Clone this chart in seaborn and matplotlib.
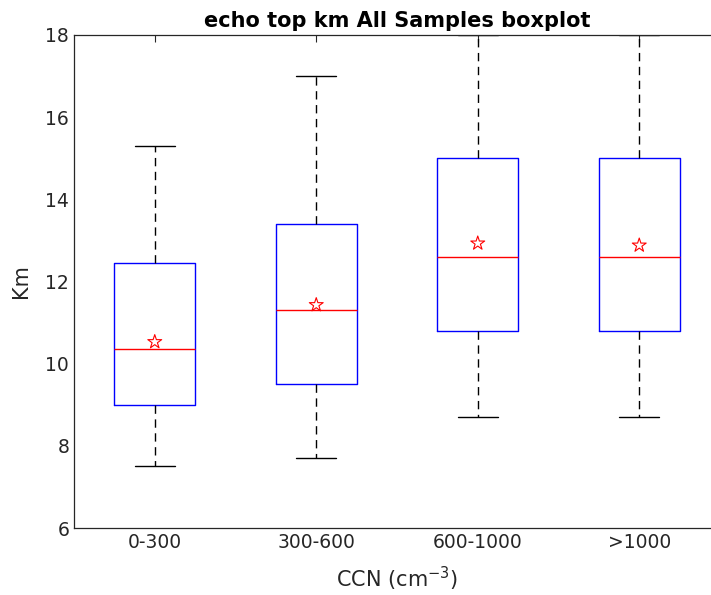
import numpy as np
import pandas as pd
import seaborn as sns
import matplotlib.pyplot as plt

# Box statistics (km)
categories = ['0-300', '300-600', '600-1000', '>1000']
whisker_low = [7.5, 7.7, 8.7, 8.7]
q1 = [9.0, 9.5, 10.8, 10.8]
median = [10.35, 11.3, 12.6, 12.6]
q3 = [12.45, 13.4, 15.0, 15.0]
whisker_high = [15.3, 17.0, 18.0, 18.0]
mean = [10.53, 11.43, 12.93, 12.88]

# five-number rows per group, so seaborn recovers the same quartiles
rows = []
for i, c in enumerate(categories):
    for v in (whisker_low[i], q1[i], median[i], q3[i], whisker_high[i]):
        rows.append({'CCN': c, 'km': v})
df = pd.DataFrame(rows)
means_df = pd.DataFrame({'CCN': categories, 'km': mean})

sns.set_style('white')
plt.rcParams['font.family'] = ['DejaVu Sans']

axis_gray = '#262626'
fig = plt.figure(figsize=(7.11, 5.95), dpi=100)
ax = fig.add_axes([74 / 711, 67 / 595, 646 / 711, 493 / 595])

sns.boxplot(data=df, x='CCN', y='km', order=categories, whis=(0, 100),
            width=0.5, fill=False, showfliers=False, ax=ax,
            boxprops=dict(color='blue', linewidth=1),
            medianprops=dict(color='red', linewidth=1),
            whiskerprops=dict(color='black', linestyle=(0, (6, 4)), linewidth=1),
            capprops=dict(color='black', linewidth=1))

sns.scatterplot(data=means_df, x='CCN', y='km', marker='*', s=110,
                facecolors='none', edgecolor='red', linewidth=0.8, ax=ax, zorder=5)

ax.set_xlim(-0.5, 3.5)
ax.set_ylim(6, 18)
ax.set_yticks(np.arange(6, 19, 2))
ax.tick_params(direction='in', top=True, right=False, length=5,
               colors=axis_gray, labelsize=13.5, width=0.8)
for name, s in ax.spines.items():
    s.set_color(axis_gray)
    s.set_linewidth(0.9)
    s.set_visible(name != 'right')  # right edge falls outside the picture

ax.set_title('echo top km All Samples boxplot', fontsize=15, fontweight='bold',
             color='black', pad=6)
ax.set_xlabel('CCN (cm$^{-3}$)', fontsize=15, color=axis_gray, labelpad=9)
ax.set_ylabel('Km', fontsize=15, color=axis_gray, labelpad=10)

fig.savefig('out.png', dpi=100)
